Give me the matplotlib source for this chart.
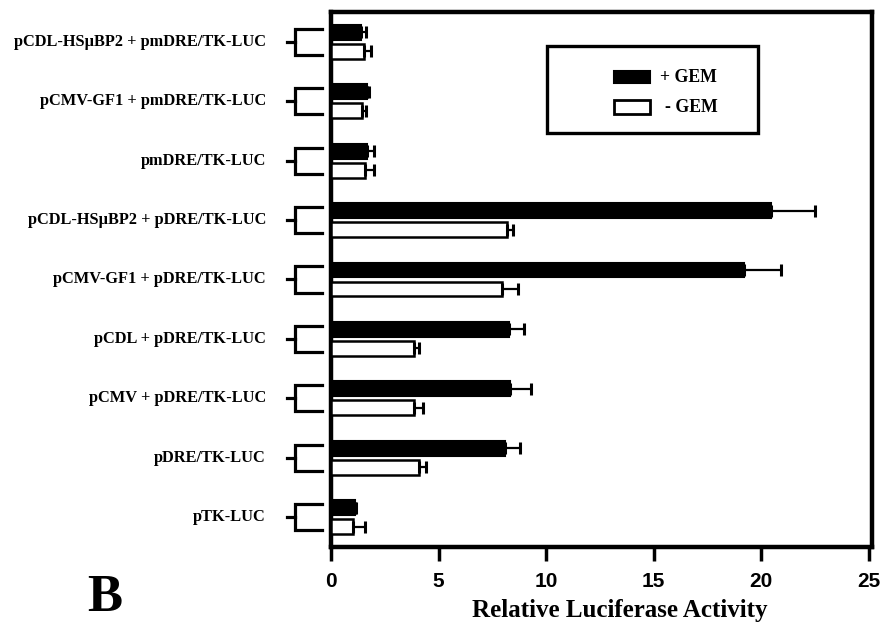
import matplotlib
matplotlib.use("Agg")
import matplotlib.pyplot as plt
import numpy as np
from matplotlib.patches import Rectangle
from matplotlib.lines import Line2D

labels = ["pCDL-HSμBP2 + pmDRE/TK-LUC", "pCMV-GF1 + pmDRE/TK-LUC", "pmDRE/TK-LUC",
          "pCDL-HSμBP2 + pDRE/TK-LUC", "pCMV-GF1 + pDRE/TK-LUC", "pCDL + pDRE/TK-LUC",
          "pCMV + pDRE/TK-LUC", "pDRE/TK-LUC", "pTK-LUC"]
plus_gem = [1.39, 1.69, 1.69, 20.45, 19.2, 8.28, 8.3, 8.09, 1.1]
plus_err = [0.24, 0.09, 0.32, 2.05, 1.7, 0.67, 0.99, 0.7, 0.05]
minus_gem = [1.53, 1.43, 1.58, 8.2, 7.95, 3.85, 3.88, 4.07, 1.0]
minus_err = [0.31, 0.2, 0.42, 0.27, 0.75, 0.25, 0.42, 0.36, 0.58]
xticks = [0, 5, 10, 15, 20, 25]
legend_labels = ["+ GEM", "- GEM"]

serif = ["Liberation Serif", "DejaVu Serif"]
narrow = ["Liberation Sans Narrow", "Liberation Sans", "DejaVu Sans"]

W, H = 881, 629
fig = plt.figure(figsize=(W / 100, H / 100), dpi=100)
ax_left, ax_right, ax_top, ax_bot = 331, 872, 12, 547
ax = fig.add_axes([ax_left / W, 1 - ax_bot / H, (ax_right - ax_left) / W, (ax_bot - ax_top) / H])

y = np.arange(len(labels))
off = 0.16
bh = 0.25
ax.barh(y - off, plus_gem, height=bh, color="black", edgecolor="black", linewidth=1.5,
        xerr=[np.zeros(len(plus_err)), plus_err],
        error_kw=dict(ecolor="black", elinewidth=1.6, capsize=4, capthick=2.2), zorder=3)
ax.barh(y + off, minus_gem, height=bh, color="white", edgecolor="black", linewidth=1.8,
        xerr=[np.zeros(len(minus_err)), minus_err],
        error_kw=dict(ecolor="black", elinewidth=1.6, capsize=4, capthick=2.2), zorder=3)

ax.set_xlim(0, 25.15)
ax.set_ylim(len(labels) - 0.5, -0.5)

for s in ax.spines.values():
    s.set_linewidth(3.2)
    s.set_color("black")

ax.set_yticks([])
ax.set_xticks(xticks)
ax.set_xticklabels([str(t) for t in xticks], family=narrow, fontweight="bold", fontsize=15)
ax.tick_params(axis="x", direction="out", length=10, width=2.5, pad=8)

ax.set_xlabel("Relative Luciferase Activity", family=serif, fontweight="bold", fontsize=18, labelpad=6)
ax.xaxis.label.set_x((620 - ax_left) / (ax_right - ax_left))

# brackets and labels
tr = ax.get_yaxis_transform()
aw = ax_right - ax_left
x_stub0 = (287 - ax_left) / aw
x_vert = (295 - ax_left) / aw
x_arm = (322 - ax_left) / aw
x_lab = (266 - ax_left) / aw
bk = 0.22
for yi, lab in zip(y, labels):
    ax.add_line(Line2D([x_arm, x_vert, x_vert, x_arm], [yi - bk, yi - bk, yi + bk, yi + bk],
                       transform=tr, color="black", lw=2.3, clip_on=False,
                       solid_joinstyle="miter"))
    ax.add_line(Line2D([x_stub0, x_vert], [yi, yi], transform=tr, color="black", lw=2.3,
                       clip_on=False))
    ax.text(x_lab, yi, lab, transform=tr, ha="right", va="center", family=serif,
            fontweight="bold", fontsize=11.8)

# legend drawn in axes fraction
def fx(px):
    return (px - ax_left) / aw

def fy(py):
    return 1 - (py - ax_top) / (ax_bot - ax_top)

ax.add_patch(Rectangle((fx(547), fy(133)), fx(758) - fx(547), fy(46) - fy(133),
                       transform=ax.transAxes, facecolor="white", edgecolor="black",
                       lw=2.4, zorder=5))
ax.add_patch(Rectangle((fx(614), fy(83)), fx(650) - fx(614), fy(71) - fy(83),
                       transform=ax.transAxes, facecolor="black", edgecolor="black",
                       lw=1.5, zorder=6))
ax.add_patch(Rectangle((fx(614), fy(114)), fx(650) - fx(614), fy(100) - fy(114),
                       transform=ax.transAxes, facecolor="white", edgecolor="black",
                       lw=2.0, zorder=6))
ax.text(fx(660), fy(77), legend_labels[0], transform=ax.transAxes, ha="left", va="center",
        family=serif, fontweight="bold", fontsize=12.8, zorder=7)
ax.text(fx(665), fy(107), legend_labels[1], transform=ax.transAxes, ha="left", va="center",
        family=serif, fontweight="bold", fontsize=12.8, zorder=7)

fig.text(105 / W, 1 - 598 / H, "B", ha="center", va="center", family=serif,
         fontweight="bold", fontsize=38)

fig.savefig("out.png", dpi=100)
